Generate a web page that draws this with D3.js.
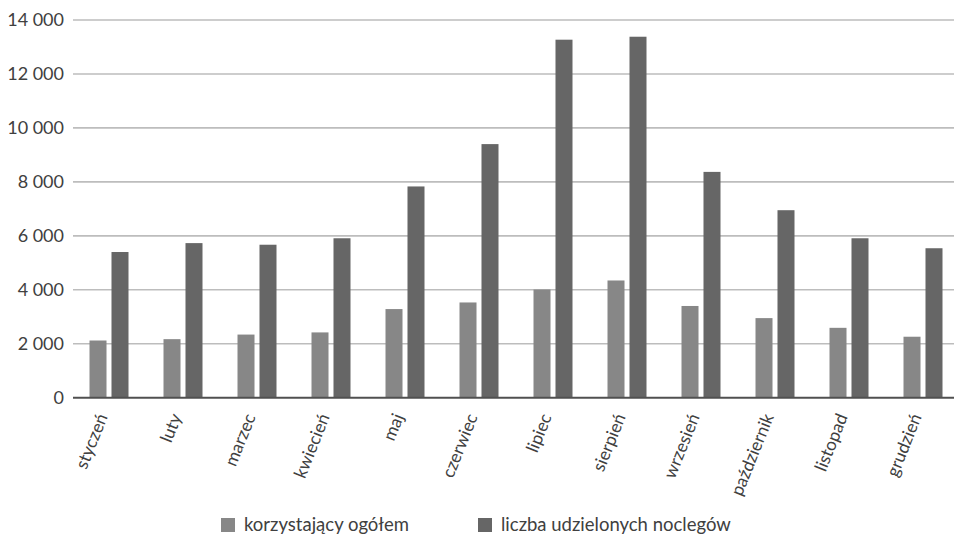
<!DOCTYPE html>
<html>
<head>
<meta charset="utf-8">
<script src="https://cdn.jsdelivr.net/npm/d3@7"></script>
<style>
  html, body { margin: 0; padding: 0; background: #fff; }
  svg { display: block; font-family: Lato, "Open Sans", sans-serif; }
</style>
</head>
<body>
<svg id="chart" width="954" height="536"></svg>
<script>
const months = ["styczeń","luty","marzec","kwiecień","maj","czerwiec","lipiec","sierpień","wrzesień","październik","listopad","grudzień"];
const seriesNames = ["korzystający ogółem","liczba udzielonych noclegów"];
const korzystajacy = [2120, 2170, 2340, 2420, 3285, 3530, 4010, 4345, 3400, 2950, 2590, 2260];
const noclegi = [5400, 5730, 5670, 5910, 7830, 9400, 13270, 13380, 8370, 6950, 5910, 5540];
const yTicks = [0, 2000, 4000, 6000, 8000, 10000, 12000, 14000];
const colors = ["#878787", "#666666"];

const svg = d3.select("#chart");
const W = 954;
const y = d3.scaleLinear().domain([0, 14000]).range([397.7, 20]);
const x = d3.scaleBand().domain(months).range([72, 960]).padding(0);
const inner = d3.scaleBand().domain(seriesNames).range([0, 39]).paddingInner(0.227).paddingOuter(0);
const fmt = v => d3.format(",")(v).replace(/,/g, " ");

// grid
svg.append("g").selectAll("line").data(yTicks.filter(d => d > 0)).join("line")
  .attr("x1", 73).attr("x2", W)
  .attr("y1", d => y(d)).attr("y2", d => y(d))
  .attr("stroke", "#bdbdbd").attr("stroke-width", 1.6);

// y labels
svg.append("g").selectAll("text").data(yTicks).join("text")
  .attr("x", 64).attr("y", d => y(d)).attr("dy", "0.35em")
  .attr("text-anchor", "end").attr("font-size", 18).attr("fill", "#404040")
  .text(fmt);

// bars
const data = months.map((m, i) => ({ m, vals: [korzystajacy[i], noclegi[i]] }));
const groups = svg.append("g").selectAll("g").data(data).join("g")
  .attr("transform", d => `translate(${x(d.m) + x.bandwidth() / 2 - 19.5},0)`);
groups.selectAll("rect").data(d => d.vals.map((v, j) => ({ s: seriesNames[j], v, j }))).join("rect")
  .attr("x", d => inner(d.s)).attr("width", inner.bandwidth())
  .attr("y", d => y(d.v)).attr("height", d => y(0) - y(d.v))
  .attr("fill", d => colors[d.j]);

// zero axis
svg.append("line").attr("x1", 73).attr("x2", W).attr("y1", y(0)).attr("y2", y(0))
  .attr("stroke", "#505050").attr("stroke-width", 2);

// x labels
svg.append("g").selectAll("text").data(months).join("text")
  .attr("transform", d => `translate(${x(d) + x.bandwidth() / 2 - 1},${y(0) + 19}) rotate(-68)`)
  .attr("text-anchor", "end")
  .attr("font-size", 17.5).attr("fill", "#404040")
  .text(d => d);

// legend
const legend = svg.append("g");
const legendX = [221, 478];
seriesNames.forEach((s, i) => {
  legend.append("rect").attr("x", legendX[i]).attr("y", 518).attr("width", 14).attr("height", 14)
    .attr("fill", colors[i]);
  legend.append("text").attr("x", legendX[i] + 23).attr("y", 531)
    .attr("font-size", 18.5).attr("fill", "#404040").text(s);
});
</script>
</body>
</html>
